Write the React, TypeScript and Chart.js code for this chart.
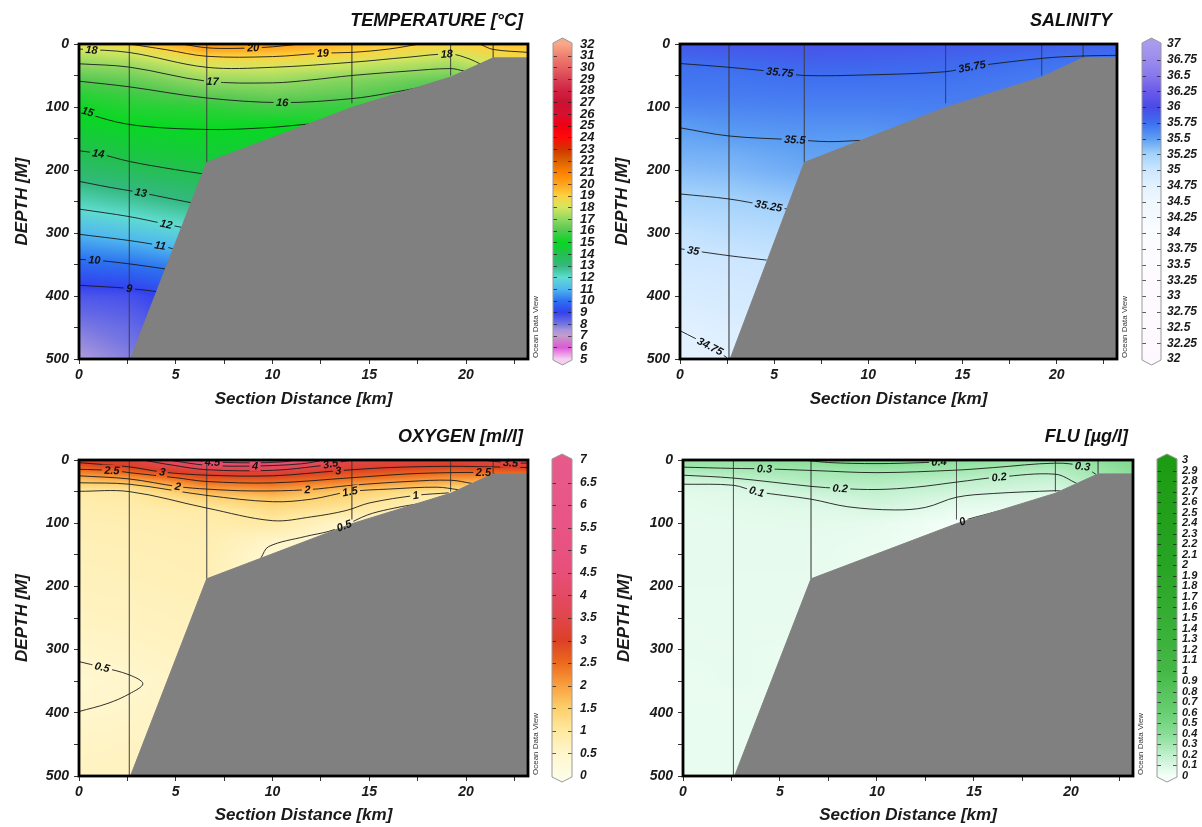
import React, { useEffect, useRef } from 'react';
import { Chart, registerables } from 'chart.js';

Chart.register(...registerables);

const FONT = '"Liberation Sans", Arial, Helvetica, sans-serif';

type Pt = [number, number];
type Contour = { level: string; points: Pt[] };
type Label = [number, number, string];

// ---------------- section geometry (km / m) ----------------
const gridKm = [0, 2.6, 6.6, 10, 14.1, 19.2, 21.4, 23.2];
const gridDepth = [0, 10, 20, 30, 40, 50, 60, 80, 100, 125, 150, 175, 200, 250, 300, 350, 400, 450, 500];

const bottomKm = [2.66, 6.6, 14.1, 19.2, 21.4, 23.2];
const bottomDepth = [500, 188, 100.8, 52.6, 22, 22];

const stationKm = [0, 2.6, 6.6, 14.1, 19.2, 21.4];
const stationDepth = [500, 500, 188, 94, 50, 22];

const distanceTicks = [0, 2.5, 5, 7.5, 10, 12.5, 15, 17.5, 20, 22.5];
const distanceLabels = ['0', '', '5', '', '10', '', '15', '', '20', ''];
const depthTicks = [0, 50, 100, 150, 200, 250, 300, 350, 400, 450, 500];
const depthLabels = ['0', '', '100', '', '200', '', '300', '', '400', '', '500'];

// ---------------- TEMPERATURE ----------------
const temperatureGrid = [
  [18.4, 17.9, 17.45, 17.05, 16.7, 16.3, 15.96, 15.45, 15.1, 14.75, 14.35, 13.9, 13.4, 12.3, 11.05, 9.8, 8.6, 7.9, 7.4],
  [19.0, 18.15, 17.75, 17.3, 16.85, 16.55, 16.2, 15.7, 15.4, 15.05, 14.6, 14.25, 13.7, 12.6, 11.33, 9.97, 8.7, 8.2, 7.8],
  [20.3, 19.9, 18.95, 18.3, 17.9, 17.4, 16.97, 16.2, 15.5, 15.15, 14.8, 14.5, 14.1, 13.1, 11.9, 10.5, 9.5, 9.0, 8.5],
  [20.35, 19.7, 19.0, 18.4, 17.85, 17.45, 17.05, 16.45, 15.8, 15.1, 14.75, 14.5, 14.2, 13.9, 13.6, 13.3, 13.0, 12.7, 12.4],
  [19.45, 19.15, 18.7, 17.95, 17.6, 17.0, 16.7, 16.2, 15.6, 15.3, 15.0, 14.8, 14.6, 14.4, 14.2, 14.0, 13.8, 13.6, 13.4],
  [18.8, 18.4, 17.8, 17.4, 16.95, 16.55, 16.1, 15.6, 15.3, 15.1, 14.9, 14.7, 14.5, 14.3, 14.1, 13.9, 13.7, 13.5, 13.3],
  [19.3, 18.95, 18.5, 18.1, 17.7, 17.3, 16.9, 16.4, 16.0, 15.6, 15.3, 15.0, 14.8, 14.5, 14.2, 14.0, 13.8, 13.6, 13.4],
  [19.4, 19.1, 18.8, 18.4, 18.0, 17.6, 17.2, 16.7, 16.2, 15.8, 15.5, 15.2, 14.9, 14.6, 14.3, 14.1, 13.9, 13.7, 13.5],
];
const temperatureContours: Contour[] = [
  { level: '20', points: [[5.3, 0], [6.6, 6], [8, 7], [9.5, 5.5], [10.5, 3], [11.4, 0]] },
  { level: '19', points: [[2.6, 0], [4.5, 9], [6.6, 19.5], [10, 20], [12.6, 14.5], [14.1, 13.3], [16, 8], [17.6, 0]] },
  { level: '19', points: [[20.7, 0], [21.4, 8.6], [23.2, 13.3]] },
  { level: '18', points: [[0, 8], [2.6, 13.5], [6.6, 37], [10, 37], [14.1, 29], [17, 21], [19.2, 16], [20.2, 24], [20.75, 32]] },
  { level: '17', points: [[0, 31.4], [2.6, 36.7], [6.6, 59], [10, 61.7], [12, 57], [14.1, 50], [17, 43], [19.2, 39], [19.9, 43]] },
  { level: '16', points: [[0, 59], [2.6, 68], [6.6, 85.7], [10.5, 93], [14.1, 86.7], [16, 78], [17.8, 68]] },
  { level: '15', points: [[0, 107], [2.6, 127.8], [6.6, 135.7], [9.6, 133], [11.9, 127]] },
  { level: '14', points: [[0, 169.4], [1, 174], [2.6, 186.4], [4.5, 197], [6.37, 206]] },
  { level: '13', points: [[0, 218], [1.5, 227], [3.2, 236], [4.5, 244], [5.8, 252]] },
  { level: '12', points: [[0, 262], [2.6, 274], [4.5, 286], [5.3, 291]] },
  { level: '11', points: [[0, 302], [2.6, 312], [4.2, 320], [4.85, 325]] },
  { level: '10', points: [[0, 342], [0.8, 343], [2.6, 349], [4.45, 357]] },
  { level: '9', points: [[0, 383], [2.6, 388], [4.0, 393]] },
];
const temperatureLabels: Label[] = [
  [0.65, 9.4, '18'], [19.0, 15.8, '18'], [9.0, 6, '20'], [12.6, 14.5, '19'], [6.9, 59.5, '17'],
  [10.5, 93, '16'], [0.45, 107.5, '15'], [1.0, 174, '14'], [3.2, 236, '13'], [4.5, 286, '12'],
  [4.2, 320, '11'], [0.8, 343, '10'], [2.6, 388, '9'],
];
const temperatureColors: [number, string][] = [
  [5, '#f6cdf3'], [6, '#dc5ad6'], [7, '#c49ccb'], [7.5, '#a595dc'], [8, '#7474e2'], [9, '#3242ef'],
  [10, '#2c72f0'], [11, '#4fb6ef'], [12, '#5fdcd0'], [13, '#34b87e'], [14, '#22c04e'], [15, '#08d822'],
  [16, '#52c850'], [17, '#92d862'], [18, '#d4e660'], [19, '#fdd23e'], [20, '#ffa41e'], [21, '#ff8000'],
  [22, '#d86200'], [23, '#d23400'], [24, '#ff0a0a'], [25, '#f00010'], [26, '#d81030'], [27, '#c81232'],
  [28, '#d02242'], [29, '#d84254'], [30, '#e66262'], [31, '#f08070'], [32, '#f8a888'],
];
const temperatureBarTicks = [5, 6, 7, 8, 9, 10, 11, 12, 13, 14, 15, 16, 17, 18, 19, 20, 21, 22, 23, 24, 25, 26, 27, 28, 29, 30, 31, 32];

// ---------------- SALINITY ----------------
const salinityGrid = [
  [35.9, 35.86, 35.81, 35.755, 35.73, 35.72, 35.71, 35.67, 35.62, 35.52, 35.46, 35.41, 35.35, 35.22, 35.05, 34.95, 34.86, 34.76, 34.7],
  [35.92, 35.88, 35.84, 35.78, 35.745, 35.72, 35.71, 35.68, 35.63, 35.56, 35.49, 35.42, 35.37, 35.24, 35.1, 34.97, 34.9, 34.82, 34.74],
  [35.93, 35.9, 35.87, 35.83, 35.79, 35.75, 35.73, 35.69, 35.65, 35.58, 35.52, 35.48, 35.44, 35.3, 35.15, 35.02, 34.95, 34.88, 34.82],
  [35.92, 35.89, 35.86, 35.82, 35.79, 35.752, 35.73, 35.69, 35.65, 35.58, 35.51, 35.48, 35.45, 35.4, 35.35, 35.3, 35.25, 35.2, 35.15],
  [35.9, 35.87, 35.83, 35.79, 35.76, 35.74, 35.72, 35.69, 35.66, 35.62, 35.58, 35.55, 35.52, 35.48, 35.44, 35.4, 35.36, 35.32, 35.28],
  [35.86, 35.82, 35.76, 35.73, 35.71, 35.69, 35.68, 35.66, 35.64, 35.6, 35.56, 35.52, 35.48, 35.44, 35.4, 35.36, 35.32, 35.28, 35.24],
  [35.84, 35.8, 35.745, 35.72, 35.7, 35.68, 35.67, 35.65, 35.63, 35.6, 35.56, 35.52, 35.48, 35.44, 35.4, 35.36, 35.32, 35.28, 35.24],
  [35.84, 35.79, 35.74, 35.72, 35.7, 35.68, 35.67, 35.65, 35.63, 35.6, 35.56, 35.52, 35.48, 35.44, 35.4, 35.36, 35.32, 35.28, 35.24],
];
const salinityContours: Contour[] = [
  { level: '35.75', points: [[0, 31], [2.6, 37], [5.3, 45], [6.6, 50], [10, 49], [14.1, 44], [15.5, 36], [19.3, 22.5], [21.4, 19], [23.2, 18]] },
  { level: '35.5', points: [[0, 133], [2.6, 146], [6.1, 152], [7.9, 155], [9.6, 153]] },
  { level: '35.25', points: [[0, 238], [2.6, 246], [4.7, 257], [5.7, 262]] },
  { level: '35', points: [[0, 325], [0.7, 328], [2.6, 336], [4.6, 343]] },
  { level: '34.75', points: [[0, 455], [1.6, 480], [2.5, 498]] },
];
const salinityLabels: Label[] = [
  [5.3, 45, '35.75'], [15.5, 36, '35.75'], [6.1, 152, '35.5'], [4.7, 257, '35.25'], [0.7, 328, '35'], [1.6, 480, '34.75'],
];
const salinityColors: [number, string][] = [
  [32, '#fdf8fd'], [33, '#fdfafe'], [34, '#fbfcff'], [34.5, '#eff7ff'], [34.75, '#e2f1ff'], [35, '#cce6ff'],
  [35.25, '#a4d2fb'], [35.5, '#5c9ef3'], [35.75, '#3e6ef0'], [36, '#4a4ae6'], [36.25, '#6a5aea'],
  [36.5, '#8878ec'], [36.75, '#9a8cee'], [37, '#a89aee'],
];
const salinityBarTicks = [32, 32.25, 32.5, 32.75, 33, 33.25, 33.5, 33.75, 34, 34.25, 34.5, 34.75, 35, 35.25, 35.5, 35.75, 36, 36.25, 36.5, 36.75, 37];

// ---------------- OXYGEN ----------------
const oxygenGrid = [
  [3.2, 2.72, 2.25, 1.75, 1.35, 0.98, 0.88, 0.82, 0.78, 0.75, 0.72, 0.7, 0.68, 0.62, 0.54, 0.44, 0.5, 0.58, 0.62],
  [3.25, 3.05, 2.5, 2.0, 1.4, 1.0, 0.92, 0.85, 0.8, 0.77, 0.74, 0.72, 0.7, 0.64, 0.57, 0.48, 0.53, 0.6, 0.64],
  [4.75, 3.85, 3.2, 2.7, 2.25, 1.8, 1.38, 0.92, 0.85, 0.8, 0.78, 0.76, 0.74, 0.7, 0.66, 0.6, 0.6, 0.64, 0.68],
  [4.9, 3.95, 3.25, 2.75, 2.35, 1.97, 1.63, 1.22, 0.96, 0.58, 0.42, 0.4, 0.4, 0.4, 0.4, 0.4, 0.4, 0.4, 0.4],
  [3.55, 3.22, 2.83, 2.42, 2.0, 1.5, 1.32, 0.98, 0.45, 0.4, 0.4, 0.4, 0.4, 0.4, 0.4, 0.4, 0.4, 0.4, 0.4],
  [3.2, 3.0, 2.5, 2.08, 1.6, 1.05, 0.7, 0.5, 0.45, 0.4, 0.4, 0.4, 0.4, 0.4, 0.4, 0.4, 0.4, 0.4, 0.4],
  [3.6, 3.05, 2.5, 2.0, 1.6, 1.2, 0.9, 0.6, 0.5, 0.45, 0.4, 0.4, 0.4, 0.4, 0.4, 0.4, 0.4, 0.4, 0.4],
  [3.65, 3.12, 2.55, 2.1, 1.7, 1.3, 1.0, 0.7, 0.6, 0.5, 0.45, 0.4, 0.4, 0.4, 0.4, 0.4, 0.4, 0.4, 0.4],
];
const oxygenContours: Contour[] = [
  { level: '4.5', points: [[5.9, 0], [6.9, 3], [9, 4.5], [10.5, 3], [11.2, 0]] },
  { level: '4', points: [[4.6, 0], [6.6, 8.3], [9.1, 9.5], [11.5, 6], [12.7, 0]] },
  { level: '3.5', points: [[3.27, 0], [4.8, 8], [6.6, 15.4], [10, 16.4], [12.5, 9], [13, 6], [14.1, 0]] },
  { level: '3.5', points: [[20.85, 0], [21.4, 2], [22.3, 4.5], [23.2, 5]] },
  { level: '3', points: [[0, 4.2], [2.6, 10.9], [4.3, 19], [6.6, 24], [10, 25], [13.4, 17], [16, 12], [19.2, 10], [21.4, 11], [23.2, 12]] },
  { level: '2.5', points: [[0, 14.7], [1.7, 16.5], [2.6, 20], [5, 28], [6.6, 34], [10, 36.2], [14.1, 28], [17, 22], [19.2, 20], [20.9, 20], [21.5, 22]] },
  { level: '2', points: [[0, 25], [2.6, 30], [5.1, 42], [6.6, 46], [9, 49], [11.8, 47], [14.1, 40], [17, 34], [19.2, 32], [20.3, 37]] },
  { level: '1.5', points: [[0, 36], [2.6, 38.3], [6.6, 56], [10, 66], [12, 62], [14, 50], [16, 46], [18.5, 43], [19.6, 47]] },
  { level: '1', points: [[0, 49.5], [2.6, 50], [6.6, 76], [10, 96], [12, 90], [13.8, 80], [15, 68], [17.4, 56], [19.1, 52]] },
  { level: '0.5', points: [[0, 319], [1.2, 328], [2.6, 340], [3.3, 354], [2.6, 370], [1.5, 385], [0, 398]] },
  { level: '0.5', points: [[9.4, 155], [9.8, 137], [11.7, 121], [12.9, 113], [13.7, 104], [14.9, 87], [16, 78], [17.4, 70], [17.9, 70]] },
];
const oxygenLabels: Label[] = [
  [1.7, 16.5, '2.5'], [4.3, 19, '3'], [6.9, 3.5, '4.5'], [9.1, 9.5, '4'], [13, 6, '3.5'], [13.4, 17, '3'],
  [22.3, 4.5, '3.5'], [20.9, 20, '2.5'], [5.1, 42, '2'], [11.8, 47, '2'], [14, 50, '1.5'], [17.4, 56, '1'],
  [13.7, 104, '0.5'], [1.2, 328, '0.5'],
];
const oxygenColors: [number, string][] = [
  [0, '#fcfde6'], [0.5, '#fff6cc'], [1, '#ffe9a0'], [1.5, '#fdcf6c'], [2, '#f9a040'], [2.5, '#ec6a1e'],
  [3, '#dc4026'], [3.5, '#e0464a'], [4, '#e34a64'], [4.5, '#e74f78'], [5, '#e85282'], [7, '#e85a8c'],
];
const oxygenBarTicks = [0, 0.5, 1, 1.5, 2, 2.5, 3, 3.5, 4, 4.5, 5, 5.5, 6, 6.5, 7];

// ---------------- FLU ----------------
const fluGrid = [
  [0.34, 0.31, 0.23, 0.15, 0.09, 0.07, 0.06, 0.055, 0.05, 0.05, 0.05, 0.05, 0.05, 0.045, 0.045, 0.04, 0.04, 0.04, 0.04],
  [0.35, 0.32, 0.26, 0.19, 0.1, 0.08, 0.07, 0.06, 0.055, 0.05, 0.05, 0.05, 0.05, 0.05, 0.045, 0.045, 0.04, 0.04, 0.04],
  [0.41, 0.34, 0.285, 0.254, 0.208, 0.16, 0.11, 0.07, 0.06, 0.05, 0.05, 0.05, 0.045, 0.045, 0.04, 0.04, 0.04, 0.04, 0.04],
  [0.44, 0.37, 0.3, 0.26, 0.22, 0.19, 0.16, 0.1, 0.05, 0.04, 0.03, 0.03, 0.03, 0.03, 0.03, 0.03, 0.03, 0.03, 0.03],
  [0.39, 0.33, 0.28, 0.22, 0.18, 0.14, 0.095, 0.04, 0.0, 0.0, 0.0, 0.0, 0.0, 0.0, 0.0, 0.0, 0.0, 0.0, 0.0],
  [0.32, 0.28, 0.21, 0.17, 0.13, 0.095, 0.06, 0.03, 0.02, 0.02, 0.02, 0.02, 0.02, 0.02, 0.02, 0.02, 0.02, 0.02, 0.02],
  [0.38, 0.34, 0.31, 0.28, 0.25, 0.22, 0.2, 0.18, 0.16, 0.15, 0.15, 0.15, 0.15, 0.15, 0.15, 0.15, 0.15, 0.15, 0.15],
  [0.45, 0.42, 0.39, 0.36, 0.33, 0.3, 0.28, 0.25, 0.22, 0.2, 0.2, 0.2, 0.2, 0.2, 0.2, 0.2, 0.2, 0.2, 0.2],
];
const fluContours: Contour[] = [
  { level: '0.4', points: [[6.2, 0], [7.5, 4], [10, 5.7], [12.5, 4], [13.2, 3], [14, 0]] },
  { level: '0.3', points: [[0, 11.3], [2.6, 13.3], [4.2, 14], [6.6, 16.5], [10, 20], [14.1, 16], [16, 12], [19.2, 5], [20.6, 10], [21.3, 23]] },
  { level: '0.2', points: [[0, 24], [2.6, 28.6], [6.6, 41.7], [8.1, 45], [10, 46.7], [12, 43], [14.1, 35], [16.3, 27], [19.2, 22.5], [20.3, 37]] },
  { level: '0.1', points: [[0, 38.3], [2.6, 40], [3.8, 50], [6.6, 62], [8.5, 74], [10.9, 79], [12.5, 75], [14.1, 58.9], [16, 53], [19.2, 48.6], [19.45, 49]] },
  { level: '0', points: [[14.2, 99], [14.6, 94.5], [15.5, 87], [16.5, 79], [17.2, 74]] },
];
const fluLabels: Label[] = [
  [13.2, 3, '0.4'], [4.2, 14, '0.3'], [20.6, 10, '0.3'], [8.1, 45, '0.2'], [16.3, 27, '0.2'], [3.8, 50, '0.1'], [14.4, 97, '0'],
];
const fluColors: [number, string][] = [
  [0, '#f4fff8'], [0.1, '#d9f7e3'], [0.2, '#bff0cc'], [0.3, '#a2e7b0'], [0.4, '#88dd96'], [0.6, '#68cf72'],
  [1, '#44b846'], [2, '#28a424'], [3, '#1c9c12'],
];
const fluBarTicks = [0, 0.1, 0.2, 0.3, 0.4, 0.5, 0.6, 0.7, 0.8, 0.9, 1, 1.1, 1.2, 1.3, 1.4, 1.5, 1.6, 1.7, 1.8, 1.9, 2, 2.1, 2.2, 2.3, 2.4, 2.5, 2.6, 2.7, 2.8, 2.9, 3];

// ---------------- layout ----------------
type Box = { x: number; y: number; w: number; h: number };
type PanelDef = {
  title: string;
  grid: number[][];
  colors: [number, string][];
  contours: Contour[];
  labels: Label[];
  main: Box;
  plot: { L: number; T: number; R: number; B: number };
  yTitlePad: number;
  xTitlePad: number;
  bar: Box & { L: number; R: number; min: number; max: number; ticks: number[]; size: number; pad: number };
};

const panels: PanelDef[] = [
  {
    title: 'TEMPERATURE [°C]', grid: temperatureGrid, colors: temperatureColors, contours: temperatureContours, labels: temperatureLabels,
    main: { x: 0, y: 0, w: 548, h: 415 }, plot: { L: 79, T: 44, R: 528, B: 359 }, yTitlePad: 12, xTitlePad: 5,
    bar: { x: 548, y: 0, w: 54, h: 415, L: 553, R: 572, min: 5, max: 32, ticks: temperatureBarTicks, size: 13, pad: 8 },
  },
  {
    title: 'SALINITY', grid: salinityGrid, colors: salinityColors, contours: salinityContours, labels: salinityLabels,
    main: { x: 600, y: 0, w: 537, h: 415 }, plot: { L: 680, T: 44, R: 1117, B: 359 }, yTitlePad: 12, xTitlePad: 5,
    bar: { x: 1137, y: 0, w: 65, h: 415, L: 1142, R: 1161, min: 32, max: 37, ticks: salinityBarTicks, size: 12, pad: 6 },
  },
  {
    title: 'OXYGEN [ml/l]', grid: oxygenGrid, colors: oxygenColors, contours: oxygenContours, labels: oxygenLabels,
    main: { x: 0, y: 415, w: 548, h: 412 }, plot: { L: 79, T: 460, R: 528, B: 776 }, yTitlePad: 12, xTitlePad: 1.5,
    bar: { x: 548, y: 415, w: 54, h: 412, L: 552, R: 572, min: 0, max: 7, ticks: oxygenBarTicks, size: 12, pad: 8 },
  },
  {
    title: 'FLU [µg/l]', grid: fluGrid, colors: fluColors, contours: fluContours, labels: fluLabels,
    main: { x: 600, y: 415, w: 553, h: 412 }, plot: { L: 683, T: 460, R: 1133, B: 776 }, yTitlePad: 14, xTitlePad: 1.5,
    bar: { x: 1153, y: 415, w: 49, h: 412, L: 1157, R: 1177, min: 0, max: 3, ticks: fluBarTicks, size: 11, pad: 5 },
  },
];

// ---------------- helpers ----------------
function hexRgb(h: string): number[] {
  return [parseInt(h.slice(1, 3), 16), parseInt(h.slice(3, 5), 16), parseInt(h.slice(5, 7), 16)];
}
function makeColorScale(stops: [number, string][]) {
  const s = stops.map(([v, c]) => [v, hexRgb(c)] as [number, number[]]);
  return (v: number): number[] => {
    if (v <= s[0][0]) return s[0][1];
    for (let i = 1; i < s.length; i++) {
      if (v <= s[i][0]) {
        const f = (v - s[i - 1][0]) / (s[i][0] - s[i - 1][0]);
        const a = s[i - 1][1], b = s[i][1];
        return [a[0] + (b[0] - a[0]) * f, a[1] + (b[1] - a[1]) * f, a[2] + (b[2] - a[2]) * f];
      }
    }
    return s[s.length - 1][1];
  };
}
const rgbStr = (c: number[]) => `rgb(${Math.round(c[0])},${Math.round(c[1])},${Math.round(c[2])})`;
const axisFont = (size: number) => ({ family: FONT, size, style: 'italic' as const, weight: 'bold' as const });

function findCell(arr: number[], v: number): [number, number] {
  let j = 0;
  while (j < arr.length - 2 && v > arr[j + 1]) j++;
  const f = Math.max(0, Math.min(1, (v - arr[j]) / (arr[j + 1] - arr[j])));
  return [j, f];
}

function sectionPlugin(p: PanelDef) {
  const cmap = makeColorScale(p.colors);
  const labelFont = `italic bold 11px ${FONT}`;
  let boxes: { x: number; y: number; a: number; w: number; h: number; t: string }[] = [];
  return {
    id: 'section',
    beforeDatasetsDraw(chart: any) {
      const { ctx, chartArea: a, scales } = chart;
      const xs = scales.x, ys = scales.y;
      const L = Math.floor(a.left), T = Math.floor(a.top);
      const W = Math.ceil(a.right) - L, H = Math.ceil(a.bottom) - T;
      const off = document.createElement('canvas');
      off.width = W; off.height = H;
      const o = off.getContext('2d')!;
      const img = o.createImageData(W, H);
      const xi = new Int32Array(W), xf = new Float32Array(W);
      for (let i = 0; i < W; i++) {
        const [j, f] = findCell(gridKm, xs.getValueForPixel(L + i + 0.5));
        xi[i] = j; xf[i] = f;
      }
      for (let r = 0; r < H; r++) {
        const [j, g] = findCell(gridDepth, ys.getValueForPixel(T + r + 0.5));
        const col = p.grid.map((c) => c[j] * (1 - g) + c[j + 1] * g);
        for (let i = 0; i < W; i++) {
          const v = col[xi[i]] * (1 - xf[i]) + col[xi[i] + 1] * xf[i];
          const c = cmap(v);
          const q = (r * W + i) * 4;
          img.data[q] = c[0]; img.data[q + 1] = c[1]; img.data[q + 2] = c[2]; img.data[q + 3] = 255;
        }
      }
      o.putImageData(img, 0, 0);
      ctx.save();
      ctx.beginPath();
      ctx.rect(a.left, a.top, a.right - a.left, a.bottom - a.top);
      ctx.clip();
      ctx.drawImage(off, L, T);
      ctx.restore();

      ctx.save();
      ctx.font = labelFont;
      boxes = p.labels.map(([k, d, t]) => {
        const px = xs.getPixelForValue(k), py = ys.getPixelForValue(d);
        let best = Infinity, ang = 0;
        const cands = p.contours.filter((c) => c.level === t);
        (cands.length ? cands : p.contours).forEach((c) => {
          for (let i = 0; i < c.points.length - 1; i++) {
            const x1 = xs.getPixelForValue(c.points[i][0]), y1 = ys.getPixelForValue(c.points[i][1]);
            const x2 = xs.getPixelForValue(c.points[i + 1][0]), y2 = ys.getPixelForValue(c.points[i + 1][1]);
            const dx = x2 - x1, dy = y2 - y1;
            const l2 = dx * dx + dy * dy || 1;
            let u = ((px - x1) * dx + (py - y1) * dy) / l2;
            u = Math.max(0, Math.min(1, u));
            const dist = Math.hypot(px - (x1 + u * dx), py - (y1 + u * dy));
            if (dist < best) { best = dist; ang = Math.atan2(dy, dx); }
          }
        });
        if (ang > Math.PI / 2) ang -= Math.PI;
        if (ang < -Math.PI / 2) ang += Math.PI;
        return { x: px, y: py, a: ang, w: ctx.measureText(t).width + 5, h: 11, t };
      });
      ctx.restore();
    },
    beforeDatasetDraw(chart: any, args: any) {
      if (!chart.data.datasets[args.index].isContour) return;
      const ctx = chart.ctx;
      ctx.save();
      ctx.beginPath();
      ctx.rect(0, 0, chart.width, chart.height);
      boxes.forEach((b) => {
        const c = Math.cos(b.a), s = Math.sin(b.a), hw = b.w / 2, hh = b.h / 2;
        const pts = [[-hw, -hh], [hw, -hh], [hw, hh], [-hw, hh]].map(([u, v]) => [b.x + u * c - v * s, b.y + u * s + v * c]);
        ctx.moveTo(pts[0][0], pts[0][1]);
        for (let i = 1; i < 4; i++) ctx.lineTo(pts[i][0], pts[i][1]);
        ctx.closePath();
      });
      ctx.clip('evenodd');
    },
    afterDatasetDraw(chart: any, args: any) {
      if (!chart.data.datasets[args.index].isContour) return;
      chart.ctx.restore();
    },
    afterDatasetsDraw(chart: any) {
      const { ctx, chartArea: a } = chart;
      ctx.save();
      ctx.beginPath();
      ctx.rect(a.left, a.top, a.right - a.left, a.bottom - a.top);
      ctx.clip();
      ctx.font = labelFont;
      ctx.fillStyle = '#111';
      ctx.textAlign = 'center';
      ctx.textBaseline = 'middle';
      boxes.forEach((b) => {
        ctx.save();
        ctx.translate(b.x, b.y);
        ctx.rotate(b.a);
        ctx.fillText(b.t, 0, 0.5);
        ctx.restore();
      });
      ctx.restore();
    },
    afterDraw(chart: any) {
      const { ctx, chartArea: a } = chart;
      ctx.save();
      ctx.lineWidth = 2.8;
      ctx.strokeStyle = '#000';
      ctx.strokeRect(a.left, a.top, a.right - a.left, a.bottom - a.top);
      ctx.fillStyle = '#111';
      ctx.font = `italic bold 18px ${FONT}`;
      ctx.textAlign = 'right';
      ctx.textBaseline = 'alphabetic';
      ctx.fillText(p.title, a.right - 5, a.top - 18);
      ctx.translate(a.right + 8, a.bottom);
      ctx.rotate(-Math.PI / 2);
      ctx.font = `8px ${FONT}`;
      ctx.textAlign = 'left';
      ctx.textBaseline = 'middle';
      ctx.fillStyle = '#333';
      ctx.fillText('Ocean Data View', 1, 0);
      ctx.restore();
    },
  };
}

function buildMain(canvas: HTMLCanvasElement, p: PanelDef) {
  const datasets: any[] = [];
  stationKm.forEach((k, i) => {
    datasets.push({
      data: [{ x: k, y: 0 }, { x: k, y: stationDepth[i] }],
      borderColor: 'rgba(60,60,60,0.45)', borderWidth: 1, pointRadius: 0, fill: false, tension: 0, order: 3,
    });
  });
  p.contours.forEach((c) => {
    datasets.push({
      data: c.points.map(([x, y]) => ({ x, y })), isContour: true,
      borderColor: '#1b1b1b', borderWidth: 0.9, pointRadius: 0, fill: false, tension: 0.35, order: 2,
    });
  });
  datasets.push({
    data: bottomKm.map((x, i) => ({ x, y: bottomDepth[i] })),
    borderColor: '#808080', backgroundColor: '#808080', borderWidth: 1, pointRadius: 0,
    fill: { value: 500 }, tension: 0, order: 1,
  });
  const leftW = p.plot.L - p.main.x;
  const bottomH = p.main.y + p.main.h - p.plot.B;
  return new Chart(canvas, {
    type: 'line',
    data: { datasets },
    options: {
      responsive: false,
      maintainAspectRatio: false,
      animation: false,
      events: [],
      layout: { padding: { left: 0, top: p.plot.T - p.main.y, right: p.main.x + p.main.w - p.plot.R, bottom: 0 } },
      plugins: { legend: { display: false }, tooltip: { enabled: false }, title: { display: false } },
      scales: {
        x: {
          type: 'linear', min: 0, max: 23.2,
          afterBuildTicks: (s: any) => { s.ticks = distanceTicks.map((v) => ({ value: v })); },
          afterFit: (s: any) => { s.height = bottomH; },
          ticks: { callback: (_v: any, i: number) => distanceLabels[i], font: axisFont(14), color: '#1a1a1a', padding: 3, maxRotation: 0, autoSkip: false },
          grid: { drawOnChartArea: false, drawTicks: true, tickLength: 5, color: '#333' },
          border: { display: false },
          title: { display: true, text: 'Section Distance [km]', font: axisFont(17), color: '#1a1a1a', padding: { top: 0, bottom: p.xTitlePad } },
        },
        y: {
          type: 'linear', reverse: true, min: 0, max: 500,
          afterBuildTicks: (s: any) => { s.ticks = depthTicks.map((v) => ({ value: v })); },
          afterFit: (s: any) => { s.width = leftW; },
          ticks: { callback: (_v: any, i: number) => depthLabels[i], font: axisFont(14), color: '#1a1a1a', padding: 5, autoSkip: false },
          grid: { drawOnChartArea: false, drawTicks: true, tickLength: 5, color: '#333' },
          border: { display: false },
          title: { display: true, text: 'DEPTH [M]', font: axisFont(17), color: '#1a1a1a', padding: { top: p.yTitlePad, bottom: 0 } },
        },
      },
    } as any,
    plugins: [sectionPlugin(p)],
  });
}

function buildBar(canvas: HTMLCanvasElement, p: PanelDef) {
  const b = p.bar;
  const cmap = makeColorScale(p.colors);
  const decor = {
    id: 'barDecor',
    afterDatasetsDraw(chart: any) {
      const { ctx, chartArea: a, scales } = chart;
      const L = a.left, R = a.right, T = a.top, B = a.bottom, cx = (L + R) / 2;
      ctx.save();
      ctx.fillStyle = rgbStr(cmap(b.max));
      ctx.beginPath();
      ctx.moveTo(L, T + 0.5); ctx.lineTo(L, T - 1); ctx.lineTo(cx, T - 6); ctx.lineTo(R, T - 1); ctx.lineTo(R, T + 0.5);
      ctx.closePath(); ctx.fill();
      ctx.fillStyle = rgbStr(cmap(b.min));
      ctx.beginPath();
      ctx.moveTo(L, B - 0.5); ctx.lineTo(L, B + 1); ctx.lineTo(cx, B + 6); ctx.lineTo(R, B + 1); ctx.lineTo(R, B - 0.5);
      ctx.closePath(); ctx.fill();
      ctx.strokeStyle = 'rgba(25,25,25,0.7)';
      ctx.lineWidth = 1;
      b.ticks.forEach((v) => {
        if (v === b.min || v === b.max) return;
        const py = Math.round(scales.y.getPixelForValue(v)) + 0.5;
        ctx.beginPath();
        ctx.moveTo(L, py); ctx.lineTo(L + 4, py);
        ctx.moveTo(R - 4, py); ctx.lineTo(R, py);
        ctx.stroke();
      });
      ctx.strokeStyle = '#9a9a9a';
      ctx.beginPath();
      ctx.moveTo(L, T - 1); ctx.lineTo(cx, T - 6); ctx.lineTo(R, T - 1); ctx.lineTo(R, B + 1);
      ctx.lineTo(cx, B + 6); ctx.lineTo(L, B + 1); ctx.closePath();
      ctx.stroke();
      ctx.restore();
    },
  };
  return new Chart(canvas, {
    type: 'bar',
    data: {
      labels: [''],
      datasets: [{
        data: [[b.min, b.max]],
        backgroundColor: (c: any) => {
          const ch = c.chart;
          const a = ch.chartArea;
          if (!a) return rgbStr(cmap((b.min + b.max) / 2));
          const g = ch.ctx.createLinearGradient(0, a.top, 0, a.bottom);
          p.colors.forEach(([v, col]) => {
            if (v >= b.min && v <= b.max) g.addColorStop((b.max - v) / (b.max - b.min), col);
          });
          return g;
        },
        borderWidth: 0, barPercentage: 1, categoryPercentage: 1,
      }],
    },
    options: {
      responsive: false,
      maintainAspectRatio: false,
      animation: false,
      events: [],
      layout: { padding: { left: b.L - b.x, top: p.plot.T - b.y, right: 0, bottom: b.y + b.h - p.plot.B } },
      plugins: { legend: { display: false }, tooltip: { enabled: false } },
      scales: {
        x: { display: false },
        y: {
          position: 'right', min: b.min, max: b.max,
          afterBuildTicks: (s: any) => { s.ticks = b.ticks.map((v) => ({ value: v })); },
          afterFit: (s: any) => { s.width = b.x + b.w - b.R; },
          ticks: { callback: (_v: any, i: number) => String(b.ticks[i]), font: axisFont(b.size), color: '#1a1a1a', padding: b.pad, autoSkip: false },
          grid: { display: false, drawTicks: false },
          border: { display: false },
        },
      },
    } as any,
    plugins: [decor],
  });
}

function Panel({ p }: { p: PanelDef }) {
  const mainRef = useRef<HTMLCanvasElement>(null);
  const barRef = useRef<HTMLCanvasElement>(null);
  useEffect(() => {
    const c1 = buildMain(mainRef.current!, p);
    const c2 = buildBar(barRef.current!, p);
    return () => { c1.destroy(); c2.destroy(); };
  }, [p]);
  const st = (b: Box): React.CSSProperties => ({ position: 'absolute', left: b.x, top: b.y, width: b.w, height: b.h });
  return (
    <>
      <canvas ref={mainRef} width={p.main.w} height={p.main.h} style={st(p.main)} />
      <canvas ref={barRef} width={p.bar.w} height={p.bar.h} style={st(p.bar)} />
    </>
  );
}

export default function App() {
  return (
    <div style={{ position: 'fixed', left: 0, top: 0, width: 1202, height: 827, background: '#fff', overflow: 'hidden' }}>
      {panels.map((p, i) => <Panel key={i} p={p} />)}
    </div>
  );
}
